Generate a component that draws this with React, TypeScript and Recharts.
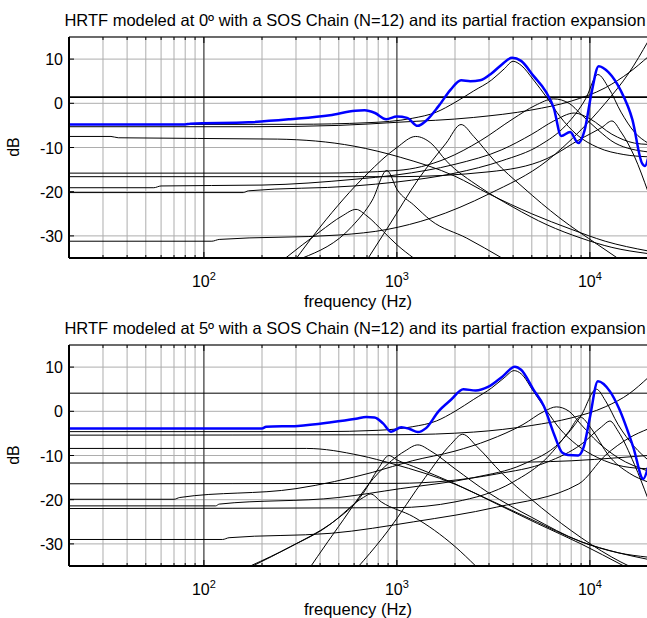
import React from 'react';
import { LineChart, Line, XAxis, YAxis, CartesianGrid, ReferenceLine } from 'recharts';

type Pt = [number, number];

const freqTicks = [
  20, 30, 40, 50, 60, 70, 80, 90,
  100, 200, 300, 400, 500, 600, 700, 800, 900,
  1000, 2000, 3000, 4000, 5000, 6000, 7000, 8000, 9000,
  10000, 20000,
];
const majorTicks = [100, 1000, 10000];
const dbTicks = [-30, -20, -10, 0, 10];

const topTitle = 'HRTF modeled at 0º with a SOS Chain (N=12) and its partial fraction expansion';
const botTitle = 'HRTF modeled at 5º with a SOS Chain (N=12) and its partial fraction expansion';

// ---- 0 degree panel ----
const topBlue: Pt[] = [
  [20, -4.8], [80, -4.8], [85, -4.6], [170, -4.3], [280, -3.6], [450, -2.7], [610, -1.7], [680, -1.6],
  [770, -2.2], [880, -3.6], [1000, -3.0], [1130, -3.3], [1280, -5.1], [1420, -3.9], [1640, -0.7],
  [1900, 3.1], [2150, 5.2], [2400, 5.0], [2700, 5.2], [3100, 6.8], [3500, 8.8], [3950, 10.3],
  [4400, 9.6], [5100, 6.2], [5900, 2.7], [6500, -1.1], [7100, -7.4], [7900, -6.5], [8700, -9.0],
  [9400, -6.0], [10200, 2.4], [11100, 8.4], [12500, 7.0], [14400, 3.0], [16600, -3.7],
  [18600, -13.5], [19300, -14.2], [20000, -12.5],
];
const topDc: Pt[] = [[20, 1.4], [20000, 1.4]];
const topRes4k: Pt[] = [
  [20, -4.8], [300, -4.75], [700, -4.4], [1200, -3.4], [1600, -2], [2000, 0.2], [2500, 2.8], [3100, 5.3],
  [3600, 7.8], [4000, 9.5], [4400, 8.6], [5100, 5.3], [6000, 1.2], [7000, -3.0], [8500, -7.0],
  [11000, -10.0], [15000, -11.6], [20000, -12.1],
];
const topRes6k: Pt[] = [
  [20, -15.8], [400, -15.8], [1000, -15.2], [1800, -12.5], [2700, -8.5], [4000, -3.5], [5200, -0.5],
  [6500, 1.0], [7800, 0], [9000, -2.5], [11000, -6], [13500, -9], [20000, -11],
];
const topRes8k: Pt[] = [
  [20, -19.1], [55, -19.1], [60, -18.7], [200, -18.5], [600, -17.2], [1000, -16.2], [2000, -13.8],
  [3500, -10.5], [5000, -7], [6500, -4], [8300, -2.2], [10000, -3.5], [13000, -7], [17000, -9], [20000, -9.3],
];
const topRes11k: Pt[] = [
  [20, -20.2], [160, -20.2], [170, -19.8], [600, -18.7], [1000, -17.8], [2000, -15.8], [3500, -13],
  [5500, -9.5], [7500, -5], [9500, 1], [11000, 6.5], [12500, 3.5], [14500, -2], [17000, -6.5], [20000, -9],
];
const topRes13k: Pt[] = [
  [20, -16.6], [1000, -16.6], [3000, -15.5], [6000, -12.5], [9000, -8], [11500, -5.5], [13000, -4],
  [14500, -6.5], [17000, -12], [20000, -20],
];
const topRise1: Pt[] = [
  [20, -5.3], [180, -5.3], [500, -5], [1000, -4.3], [2500, -3.2], [5000, -1.5], [8000, 0.5],
  [12000, 3.5], [16000, 7], [20000, 10.5],
];
const topRise2: Pt[] = [
  [20, -31.2], [110, -31.2], [120, -30.8], [500, -29.8], [900, -28.5], [1500, -26], [3000, -20.5],
  [6000, -13], [9000, -6], [12000, 0], [16000, 7], [20000, 14],
];
const topLow: Pt[] = [
  [20, -7.5], [33, -7.5], [36, -7.8], [240, -8.1], [600, -9.7], [1040, -12.2], [2000, -16.5],
  [3000, -20.5], [5000, -25], [8000, -28.5], [12000, -31.2], [20000, -33.4],
];
const topRes1k3: Pt[] = [
  [250, -40], [400, -28], [700, -16], [1000, -10], [1250, -7.5], [1500, -9], [1800, -13], [2700, -19],
  [4000, -23.5], [6000, -27.5], [9000, -30.5], [13000, -32.6], [20000, -34],
];
const topRes2k: Pt[] = [
  [600, -40], [900, -28], [1300, -17], [1800, -9], [2150, -4.8], [2500, -7.5], [3200, -13],
  [4500, -19], [7000, -26], [11000, -32], [15000, -36],
];
const topRes900: Pt[] = [
  [324, -35], [584, -27.9], [746, -21.9], [887, -15.2], [1005, -19.6], [1222, -23], [1500, -26.5],
  [2300, -30.5], [3500, -35],
];
const topRes600: Pt[] = [
  [265, -35], [400, -29], [520, -25.5], [614, -24], [700, -25.5], [850, -29], [1000, -32], [1220, -35],
];

// ---- 5 degree panel ----
const botBlue: Pt[] = [
  [20, -3.9], [200, -3.9], [210, -3.5], [307, -3.3], [456, -2.5], [614, -1.7], [694, -1.3], [766, -1.4],
  [850, -2.8], [933, -4.6], [1054, -3.6], [1164, -4.0], [1284, -4.7], [1416, -3.8], [1643, 0],
  [1906, 2.6], [2210, 5.0], [2560, 4.7], [2965, 5.5], [3530, 7.9], [4083, 10.1], [4400, 9.4],
  [5100, 4.9], [5770, 1.2], [6520, -5.2], [7200, -9.4], [7700, -9.9], [8700, -10.0], [9300, -8],
  [10000, -1.4], [11000, 6.8], [12700, 4.5], [14100, 0.8], [16800, -8.2], [18900, -15.3], [20000, -12.7],
];
const botDc: Pt[] = [[20, 4.1], [20000, 4.1]];
const botRes4k: Pt[] = [
  [20, -4.6], [400, -4.6], [800, -4.3], [1200, -3.5], [1600, -2.2], [2000, 0], [2500, 2.7], [3100, 5.3],
  [3600, 7.6], [4050, 9.2], [4400, 8.5], [5100, 4.5], [6000, 0], [7000, -4], [8500, -7.5],
  [11000, -10.5], [15000, -12.5], [20000, -13],
];
const botLow: Pt[] = [
  [20, -8.4], [340, -8.4], [644, -10], [955, -11.9], [2000, -16.5], [3000, -20], [5000, -24.5],
  [9000, -29.5], [14000, -32], [20000, -33.5],
];
const botFlat: Pt[] = [[20, -11.7], [3000, -11.6], [8000, -11.2], [14000, -10.5], [20000, -10]];
const botRise1: Pt[] = [
  [20, -5.4], [1000, -5.3], [2500, -4.7], [5000, -3.2], [8000, -1.5], [12000, 1], [16000, 4], [20000, 7.6],
];
const botRes6k: Pt[] = [
  [20, -19.9], [70, -19.9], [75, -19.5], [300, -17.5], [750, -13.8], [1200, -11.2], [2000, -9],
  [3000, -6.5], [4500, -3], [5800, 0], [6700, 1.0], [7800, 0], [9000, -3], [11000, -7], [14000, -10.5],
  [20000, -13.5],
];
const botRes9k: Pt[] = [
  [20, -22], [1000, -21.8], [2000, -20.5], [4000, -16], [6000, -10.5], [7800, -4.5], [8900, -1.3],
  [10200, -4], [12500, -10], [16000, -14], [20000, -16],
];
const botRes11k: Pt[] = [
  [20, -21.4], [115, -21.4], [120, -21], [500, -19.5], [1040, -17.5], [2500, -15], [4500, -12],
  [7000, -7], [9000, -1], [10800, 5], [12000, 2.5], [14000, -3], [17000, -8], [20000, -11],
];
const botRes13k: Pt[] = [
  [20, -16.4], [1000, -16.3], [3270, -14.2], [6000, -11.5], [9000, -7.5], [11500, -3.5], [12700, -2.2],
  [14000, -4.5], [17000, -12], [20000, -19.8],
];
const botRise2: Pt[] = [
  [20, -29], [125, -29], [135, -28.6], [456, -27.6], [1222, -25], [3270, -21.7], [8770, -16.4],
  [12000, -10], [16000, -6], [20000, -4],
];
const botRes730: Pt[] = [
  [179, -35], [282, -30.6], [456, -25.4], [670, -19.5], [730, -18.7], [830, -20.5], [1222, -23.9],
  [2000, -30.6], [2560, -35],
];
const botRes910: Pt[] = [
  [174, -35], [282, -30.6], [456, -25.4], [670, -18.5], [800, -13], [910, -10], [1000, -11],
  [1222, -12.5], [2000, -16.4], [3270, -20.9], [5350, -25.4], [9000, -30], [15000, -35],
];
const botRes1k3: Pt[] = [
  [300, -40], [500, -26], [800, -14], [1100, -9], [1284, -7.6], [1500, -9], [2000, -13], [3000, -18.5],
  [5000, -24], [9000, -29.5], [14000, -32], [20000, -33],
];
const botRes2k: Pt[] = [
  [500, -40], [900, -27], [1400, -15], [1900, -7.5], [2190, -5.2], [2600, -8], [3500, -14],
  [5000, -20], [8000, -27], [13000, -33], [20000, -37],
];

const topTerms = [
  topDc, topRes4k, topRes6k, topRes8k, topRes11k, topRes13k, topRise1, topRise2,
  topLow, topRes1k3, topRes2k, topRes900, topRes600,
];
const botTerms = [
  botDc, botRes4k, botLow, botFlat, botRise1, botRes6k, botRes9k, botRes11k, botRes13k, botRise2,
  botRes730, botRes910, botRes1k3, botRes2k,
];

const FONT = '"Liberation Sans", Arial, Helvetica, sans-serif';
const PLOT_H = 221;

const toRows = (pts: Pt[]) => pts.map(([f, db]) => ({ f, db }));

function FreqTick(props: any) {
  const { x, y, payload } = props;
  const exp = majorTicks.indexOf(payload.value);
  const len = exp >= 0 ? 6 : 3;
  return (
    <g>
      <line x1={x} x2={x} y1={y} y2={y - len} stroke="#000" strokeWidth={1} />
      <line x1={x} x2={x} y1={y - PLOT_H} y2={y - PLOT_H + len} stroke="#000" strokeWidth={1} />
      {exp >= 0 && (
        <text x={x} y={y + 29} textAnchor="middle" fontSize={16} fontFamily={FONT} fill="#000">
          10<tspan dy={-7} fontSize={11}>{exp + 2}</tspan>
        </text>
      )}
    </g>
  );
}

function DbTick(props: any) {
  const { x, y, payload } = props;
  const ax = x + 6;
  return (
    <g>
      <line x1={ax} x2={ax + 5} y1={y} y2={y} stroke="#000" strokeWidth={1} />
      <text x={x} y={y} dy={6} textAnchor="end" fontSize={16} fontFamily={FONT} fill="#000">
        {payload.value}
      </text>
    </g>
  );
}

function Panel({ title, blue, terms, top, dcWidth }: {
  title: string; blue: Pt[]; terms: Pt[][]; top: number; dcWidth: number;
}) {
  return (
    <div style={{ position: 'absolute', left: 0, top, width: 647, height: 310 }}>
      <LineChart width={700} height={320} margin={{ top: 37, right: 52, bottom: 22, left: 0 }}>
        <CartesianGrid stroke="#adadad" strokeWidth={1} />
        <XAxis
          type="number"
          dataKey="f"
          scale="log"
          domain={[20, 20000]}
          allowDataOverflow
          ticks={freqTicks}
          interval={0}
          height={40}
          tickSize={0}
          tickMargin={0}
          tick={<FreqTick />}
          axisLine={{ stroke: '#000', strokeWidth: 2 }}
        />
        <YAxis
          type="number"
          domain={[-35, 15]}
          allowDataOverflow
          ticks={dbTicks}
          interval={0}
          width={69}
          tickSize={0}
          tickMargin={6}
          tick={<DbTick />}
          axisLine={{ stroke: '#000', strokeWidth: 2 }}
        />
        {majorTicks.map((m) => (
          <ReferenceLine key={m} x={m} stroke="#333" strokeWidth={1} />
        ))}
        <ReferenceLine y={15} stroke="#000" strokeWidth={1} />
        {terms.map((pts, i) => (
          <Line
            key={i}
            data={toRows(pts)}
            dataKey="db"
            type="monotone"
            stroke="#000"
            strokeWidth={i === 0 ? dcWidth : 1}
            dot={false}
            isAnimationActive={false}
          />
        ))}
        <Line
          data={toRows(blue)}
          dataKey="db"
          type="monotone"
          stroke="#0000ff"
          strokeWidth={2.5}
          dot={false}
          isAnimationActive={false}
        />
      </LineChart>
      <div
        style={{
          position: 'absolute', left: 40, width: 630, top: 11, textAlign: 'center',
          fontFamily: FONT, fontSize: 16.5, lineHeight: '19px', color: '#000', whiteSpace: 'nowrap',
        }}
      >
        {title}
      </div>
      <div
        style={{
          position: 'absolute', left: 4, top: 138, fontFamily: FONT, fontSize: 16, lineHeight: '18px',
          transform: 'rotate(-90deg)', color: '#000',
        }}
      >
        dB
      </div>
      <div
        style={{
          position: 'absolute', left: 258, width: 200, top: 292, textAlign: 'center',
          fontFamily: FONT, fontSize: 16.5, lineHeight: '19px', color: '#000',
        }}
      >
        frequency (Hz)
      </div>
    </div>
  );
}

export default function App() {
  return (
    <div style={{ position: 'absolute', left: 0, top: 0, width: 647, height: 618, overflow: 'hidden', background: '#fff' }}>
      <Panel title={topTitle} blue={topBlue} terms={topTerms} top={0} dcWidth={1.6} />
      <Panel title={botTitle} blue={botBlue} terms={botTerms} top={308} dcWidth={1} />
    </div>
  );
}
